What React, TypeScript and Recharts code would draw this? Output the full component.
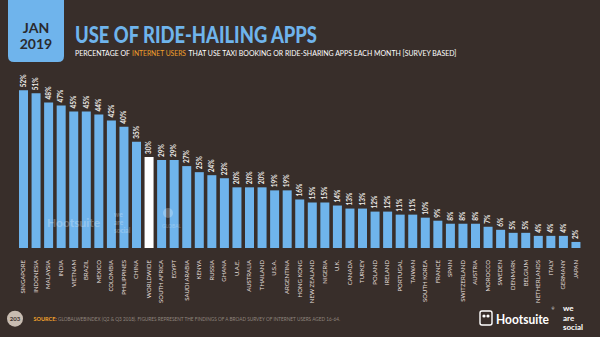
import { Bar, BarChart, Cell, LabelList, XAxis, YAxis } from "recharts";

const countries = [
  "SINGAPORE", "INDONESIA", "MALAYSIA", "INDIA", "VIETNAM", "BRAZIL", "MEXICO", "COLOMBIA",
  "PHILIPPINES", "CHINA", "WORLDWIDE", "SOUTH AFRICA", "EGYPT", "SAUDI ARABIA", "KENYA", "RUSSIA",
  "GHANA", "U.A.E.", "AUSTRALIA", "THAILAND", "U.S.A.", "ARGENTINA", "HONG KONG", "NEW ZEALAND",
  "NIGERIA", "U.K.", "CANADA", "TURKEY", "POLAND", "IRELAND", "PORTUGAL", "TAIWAN", "SOUTH KOREA",
  "FRANCE", "SPAIN", "SWITZERLAND", "AUSTRIA", "MOROCCO", "SWEDEN", "DENMARK", "BELGIUM",
  "NETHERLANDS", "ITALY", "GERMANY", "JAPAN",
];
const usage = [
  52, 51, 48, 47, 45, 45, 44, 42, 40, 35, 30, 29, 29, 27, 25, 24, 23, 20, 20, 20, 19, 19, 16, 15,
  15, 14, 13, 13, 12, 12, 11, 11, 10, 9, 8, 8, 8, 7, 6, 5, 5, 4, 4, 4, 2,
];

const BG = "#382e2a";
const BLUE = "#6fb4ec";
const ORANGE = "#f0a02c";
const FONT = "Lato, 'Open Sans', sans-serif";

const data = countries.map((c, i) => ({ country: c, value: usage[i] }));

type TickProps = { x?: number; y?: number; payload?: { value: string } };

function CountryTick({ x = 0, y = 0, payload }: TickProps) {
  return (
    <text
      transform={`translate(${x + 2.1}, ${y + 4}) rotate(-90)`}
      textAnchor="end"
      fontSize={6}
      fontFamily={FONT}
      fill="#e4dfdb"
    >
      {payload?.value}
    </text>
  );
}

type LabelProps = { x?: number; y?: number; width?: number; value?: number };

function ValueLabel({ x = 0, y = 0, width = 0, value }: LabelProps) {
  return (
    <text
      transform={`translate(${x + width / 2 + 2.3}, ${y - 3}) rotate(-90)`}
      textAnchor="start"
      fontSize={6.5}
      fontWeight={700}
      fontFamily={FONT}
      fill="#f2efec"
    >
      {value}%
    </text>
  );
}

export default function App() {
  return (
    <div style={{ position: "absolute", left: 0, top: 0, width: 600, height: 337, background: BG, overflow: "hidden" }}>
      <div style={{ position: "absolute", left: 0, top: 0 }}>
        <BarChart width={600} height={337} data={data} margin={{ top: 66, right: 18, bottom: 0, left: 17 }} barCategoryGap="16%">
          <XAxis dataKey="country" interval={0} height={89} axisLine={false} tickLine={false} tick={(p) => <CountryTick {...p} />} />
          <YAxis hide domain={[0, 60]} />
          <Bar dataKey="value" isAnimationActive={false}>
            {data.map((d) => (
              <Cell key={d.country} fill={d.country === "WORLDWIDE" ? "#ffffff" : BLUE} />
            ))}
            <LabelList dataKey="value" content={(p) => <ValueLabel {...(p as LabelProps)} />} />
          </Bar>
        </BarChart>
      </div>
      <svg width={600} height={337} style={{ position: "absolute", left: 0, top: 0, pointerEvents: "none" }} fontFamily={FONT}>
        {/* date tab */}
        <path d="M8 0 H64 V56 Q64 62 58 62 H14 Q8 62 8 56 Z" fill={BLUE} />
        <text x={36} y={33} textAnchor="middle" fontSize={14} fontWeight={700} fill="#2a2a2e">JAN</text>
        <text x={36} y={49} textAnchor="middle" fontSize={14} fontWeight={700} fill="#2a2a2e">2019</text>
        {/* title */}
        <text x={75} y={43} fontSize={22} fontWeight={900} fill={BLUE} textLength={242} lengthAdjust="spacingAndGlyphs">
          USE OF RIDE-HAILING APPS
        </text>
        <text x={75} y={56} fontSize={7} fill="#ffffff" textLength={55} lengthAdjust="spacingAndGlyphs">PERCENTAGE OF</text>
        <text x={132} y={56} fontSize={7} fill={ORANGE} textLength={54} lengthAdjust="spacingAndGlyphs">INTERNET USERS</text>
        <text x={188.5} y={56} fontSize={7} fill="#ffffff" textLength={268} lengthAdjust="spacingAndGlyphs">
          THAT USE TAXI BOOKING OR RIDE-SHARING APPS EACH MONTH [SURVEY BASED]
        </text>
        {/* watermark */}
        <g opacity={0.25} fill="#ffffff">
          <text x={47} y={227} fontSize={12} fontWeight={700}>Hootsuite</text>
          <text x={114} y={217} fontSize={6.5} fontWeight={700}>we</text>
          <text x={114} y={225} fontSize={6.5} fontWeight={700}>are</text>
          <text x={114} y={233} fontSize={6.5} fontWeight={700}>social</text>
          <circle cx={168} cy={213} r={5} />
          <text x={162} y={228} fontSize={5}>GLOBAL</text>
        </g>
        {/* footer */}
        <circle cx={15} cy={318.7} r={8} fill="#c8bcb1" />
        <text x={15} y={321} textAnchor="middle" fontSize={6} fontWeight={700} fill="#3a302c">203</text>
        <text x={33.5} y={321} fontSize={5.5} fill={ORANGE} fontWeight={700}>SOURCE:</text>
        <text x={58} y={321} fontSize={5.5} fill="#8f857e" textLength={282} lengthAdjust="spacingAndGlyphs">
          GLOBALWEBINDEX (Q2 &amp; Q3 2018). FIGURES REPRESENT THE FINDINGS OF A BROAD SURVEY OF INTERNET USERS AGED 16-64.
        </text>
        <rect x={480} y={311} width={12} height={14} rx={2} fill="none" stroke="#ffffff" strokeWidth={1.4} />
        <circle cx={484} cy={316} r={1.6} fill="#ffffff" />
        <circle cx={488} cy={316} r={1.6} fill="#ffffff" />
        <text x={496} y={324} fontSize={14} fontWeight={700} fill="#ffffff" textLength={53} lengthAdjust="spacingAndGlyphs">Hootsuite</text>
        <text x={551.5} y={309.5} fontSize={3.5} fill="#ffffff">®</text>
        <text x={563} y={311} fontSize={8} fontWeight={700} fill="#ffffff">we</text>
        <text x={563} y={320.5} fontSize={8} fontWeight={700} fill="#ffffff">are</text>
        <text x={563} y={330} fontSize={8} fontWeight={700} fill="#ffffff">social</text>
      </svg>
    </div>
  );
}
